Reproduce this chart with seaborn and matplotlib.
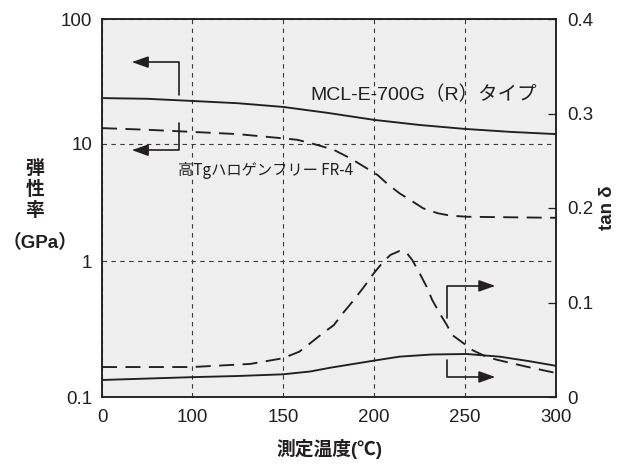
import numpy as np
import matplotlib
matplotlib.use("Agg")
import matplotlib.pyplot as plt
import seaborn as sns

# 弾性率 (GPa) -- 左軸
temp_mcl_mod = [0, 50, 100, 125, 150, 175, 200, 225, 250, 275, 300]
mcl_mod = [23.3, 23.0, 22.1, 21.2, 19.8, 17.7, 15.6, 14.2, 13.2, 12.5, 12.0]

temp_fr4_mod = [0, 50, 100, 125, 150, 158, 169, 178, 187, 196, 202, 207, 214, 220,
                227, 235, 242, 251, 258, 300]
fr4_mod = [13.4, 13.0, 12.5, 12.0, 11.1, 10.8, 9.8, 8.9, 7.55, 6.2, 5.43, 4.61, 3.79, 3.32,
           2.82, 2.56, 2.44, 2.39, 2.38, 2.34]

# tan δ -- 右軸
temp_mcl_tan = [0, 50, 100, 125, 150, 165, 176, 200, 214, 232, 251, 269, 285, 300]
mcl_tan = [0.018, 0.0195, 0.021, 0.0222, 0.024, 0.027, 0.031, 0.0385, 0.0427, 0.045,
           0.0455, 0.0427, 0.038, 0.033]

temp_fr4_tan = [0, 50, 100, 132, 150, 159, 166, 172, 178, 183, 188, 194, 200, 205, 209,
                214, 218, 221, 225, 229, 232, 236, 240, 243, 249, 254, 262, 268, 284, 300]
fr4_tan = [0.0317, 0.0317, 0.0317, 0.035, 0.041, 0.048, 0.0585, 0.0677, 0.0762, 0.0889,
           0.1005, 0.1153, 0.1312, 0.1429, 0.1503, 0.1545, 0.1524, 0.145, 0.1312, 0.1164,
           0.1026, 0.0889, 0.0762, 0.0656, 0.0571, 0.0497, 0.0423, 0.0392, 0.032, 0.0254]

x_ticks = [0, 100, 150, 200, 250, 300]
y_ticks = [0.1, 1, 10, 100]
y_ticklabels = ["0.1", "1", "10", "100"]
tan_ticks = [0, 0.1, 0.2, 0.3, 0.4]
tan_ticklabels = ["0", "0.1", "0.2", "0.3", "0.4"]

INK = "#231f20"

sns.set_theme(style="white")
plt.rcParams["font.family"] = ["Liberation Sans", "Noto Sans CJK JP", "DejaVu Sans"]


# 横軸: 0-100 が圧縮されている
def fwd_x(t):
    t = np.asarray(t, dtype=float)
    return np.where(t < 100, t * 0.9, 90 + (t - 100) * 1.82)


def inv_x(u):
    u = np.asarray(u, dtype=float)
    return np.where(u < 90, u / 0.9, 100 + (u - 90) / 1.82)


# 縦軸: 対数だがデケードの幅が不均一
def fwd_y(v):
    L = np.log10(np.clip(np.asarray(v, dtype=float), 1e-12, None))
    return np.where(L < 0, (L + 1) * 136, np.where(L < 1, 136 + L * 117, 253 + (L - 1) * 125))


def inv_y(p):
    p = np.asarray(p, dtype=float)
    with np.errstate(over="ignore"):
        return np.where(p < 136, 10 ** (p / 136 - 1),
                        np.where(p < 253, 10 ** ((p - 136) / 117), 10 ** (1 + (p - 253) / 125)))


fig, ax = plt.subplots(figsize=(6.26, 4.66), dpi=100)
fig.subplots_adjust(left=102 / 626, right=556 / 626, bottom=69 / 466, top=447 / 466)
ax2 = ax.twinx()

solid = dict(color=INK, lw=1.35)
dashed = dict(color=INK, lw=1.35, linestyle=(0, (8, 4.5)))

sns.lineplot(x=temp_mcl_mod, y=mcl_mod, ax=ax, **solid)
sns.lineplot(x=temp_fr4_mod, y=fr4_mod, ax=ax, **dashed)
sns.lineplot(x=temp_mcl_tan, y=mcl_tan, ax=ax2, **solid)
sns.lineplot(x=temp_fr4_tan, y=fr4_tan, ax=ax2, **dashed)

ax.set_xscale("function", functions=(fwd_x, inv_x))
ax.set_yscale("function", functions=(fwd_y, inv_y))
ax.set_xlim(0, 300)
ax.set_ylim(0.1, 100)
ax2.set_ylim(0, 0.4)

ax.set_xticks(x_ticks)
ax.set_xticklabels([str(t) for t in x_ticks])
ax.set_yticks(y_ticks)
ax.set_yticklabels(y_ticklabels)
ax.minorticks_off()
ax2.set_yticks(tan_ticks)
ax2.set_yticklabels(tan_ticklabels)

ax.set_facecolor("#efefef")
ax.set_axisbelow(True)
ax.grid(True, which="major", color="#3a3a3a", lw=0.8, linestyle=(0, (4, 4)))
ax.tick_params(axis="both", length=0, labelsize=13.5, colors=INK)
ax.tick_params(axis="x", pad=9)
ax.tick_params(axis="y", pad=7)
ax2.tick_params(axis="y", direction="in", length=6, width=0.9, pad=8,
                labelsize=13.5, colors=INK)

for a in (ax, ax2):
    for s in a.spines.values():
        s.set_visible(True)
        s.set_color(INK)
        s.set_linewidth(1.1)

ax.set_xlabel("測定温度(℃)", fontsize=13.5, fontweight="bold", color=INK, labelpad=9)
ax.set_ylabel("")
ax2.set_ylabel("tan δ", fontsize=13.5, fontweight="bold", color=INK, labelpad=4)
fig.text(35 / 626, 1 - 190 / 466, "弾\n性\n率", ha="center", va="center",
         fontsize=13.5, fontweight="bold", color=INK, linespacing=1.2)
fig.text(40 / 626, 1 - 243 / 466, "（GPa）", ha="center", va="center",
         fontsize=13.5, fontweight="bold", color=INK)

# 曲線ラベル
ax.text(0.458, 0.80, "MCL-E-700G（R）タイプ", transform=ax.transAxes,
        ha="left", va="center", fontsize=14, color=INK)
ax.text(0.167, 0.60, "高Tgハロゲンフリー FR-4", transform=ax.transAxes,
        ha="left", va="center", fontsize=11, color=INK, family=["Noto Sans CJK JP"])

# 軸を示す矢印
arrow = dict(arrowstyle="-|>,head_length=0.7,head_width=0.25", color=INK, lw=1.2,
             shrinkA=0, shrinkB=0, mutation_scale=14,
             connectionstyle="angle,angleA=90,angleB=0,rad=0")
for tip, start in [((0.066, 0.886), (0.170, 0.799)),
                   ((0.066, 0.653), (0.170, 0.725)),
                   ((0.866, 0.294), (0.760, 0.209)),
                   ((0.866, 0.053), (0.760, 0.098))]:
    ax2.annotate("", xy=tip, xytext=start, xycoords="axes fraction",
                 textcoords="axes fraction", arrowprops=arrow)

plt.savefig("out.png", dpi=100)
